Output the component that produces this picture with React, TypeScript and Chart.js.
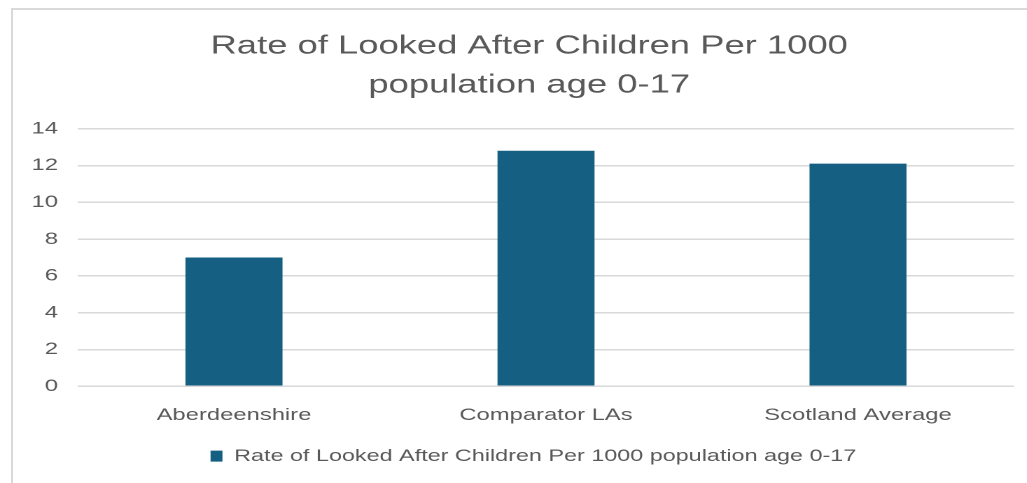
import React, { useEffect, useRef } from "react";
import { Chart, registerables } from "chart.js";

Chart.register(...registerables);

const categories = ["Aberdeenshire", "Comparator LAs", "Scotland Average"];
const seriesName = "Rate of Looked After Children Per 1000 population age 0-17";
const seriesValues = [7.0, 12.8, 12.1];
const titleLines = ["Rate of Looked After Children Per 1000", "population age 0-17"];
const yTickMin = 0;
const yTickMax = 14;
const yTickStep = 2;

const STRETCH = 1.4;
const FULL_W = 1027;
const FULL_H = 483;
const W = Math.round(FULL_W / STRETCH);
const H = FULL_H;
const FONT = "'Liberation Sans', Arial, sans-serif";
const TEXT = "#595959";

const shiftPlugin = {
  id: "shiftTitleLegend",
  afterLayout(chart: any) {
    const t = chart.titleBlock;
    if (t) {
      t.left += 8;
      t.right += 8;
    }
    const l = chart.legend;
    if (l) {
      l.left += 11;
      l.right += 11;
    }
  },
};

export default function App() {
  const ref = useRef<HTMLCanvasElement | null>(null);

  useEffect(() => {
    if (!ref.current) return;
    const chart = new Chart(ref.current, {
      type: "bar",
      data: {
        labels: categories,
        datasets: [
          {
            label: seriesName,
            data: seriesValues,
            backgroundColor: "#156082",
            borderWidth: 0,
            barPercentage: 0.311,
            categoryPercentage: 1,
          },
        ],
      },
      plugins: [shiftPlugin],
      options: {
        responsive: false,
        animation: false,
        devicePixelRatio: 2,
        layout: { padding: { left: 15.7, right: 9.7, top: 0, bottom: 8.5 } },
        plugins: {
          title: {
            display: true,
            text: titleLines,
            color: TEXT,
            font: { family: FONT, size: 26, weight: "normal", lineHeight: 39 / 26 },
            padding: { top: 27, bottom: 23.7 },
          },
          legend: {
            display: true,
            position: "bottom",
            labels: {
              color: TEXT,
              font: { family: FONT, size: 16.7 },
              boxWidth: 8.5,
              boxHeight: 11,
              padding: 10,
            },
          },
          tooltip: { enabled: false },
        },
        scales: {
          x: {
            grid: { display: false, drawTicks: false },
            border: { display: false },
            ticks: {
              color: TEXT,
              font: { family: FONT, size: 17 },
              padding: 19,
              maxRotation: 0,
            },
            afterFit: (scale: any) => {
              scale.height = 51.5;
            },
          },
          y: {
            min: yTickMin,
            max: yTickMax,
            grid: { color: "#d9d9d9", lineWidth: 1.5, drawTicks: false },
            border: { display: false },
            ticks: {
              stepSize: yTickStep,
              color: TEXT,
              font: { family: FONT, size: 17 },
              padding: 14.3,
            },
            afterFit: (scale: any) => {
              scale.width = 40;
            },
          },
        },
      },
    });
    return () => chart.destroy();
  }, []);

  return (
    <div style={{ position: "absolute", left: 0, top: 0, width: FULL_W, height: FULL_H, overflow: "hidden", background: "#fff" }}>
      <div style={{ position: "absolute", left: 0, top: 0, width: W, height: H, transform: `scaleX(${STRETCH})`, transformOrigin: "0 0" }}>
        <canvas ref={ref} width={W} height={H} />
      </div>
      <div
        style={{
          position: "absolute",
          left: 11,
          top: 8,
          right: 0,
          bottom: 0,
          borderTop: "2px solid #d9d9d9",
          borderLeft: "2px solid #d9d9d9",
          pointerEvents: "none",
        }}
      />
    </div>
  );
}
